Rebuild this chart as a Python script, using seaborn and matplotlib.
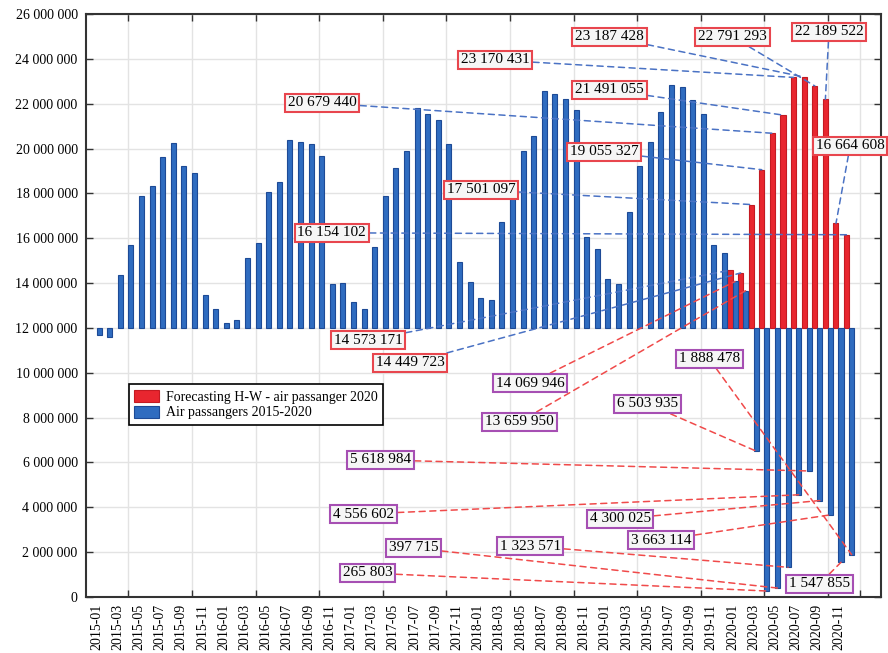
import numpy as np
import pandas as pd
import matplotlib.pyplot as plt
import matplotlib.ticker as mticker
import seaborn as sns

# months 2015-01 .. 2020-12
months = [f"{y}-{m:02d}" for y in range(2015, 2021) for m in range(1, 13)]

# monthly air passengers (2015-2019, 2020 from the labels)
passengers = [
    11.69e6, 11.58e6, 14.36e6, 15.70e6, 17.90e6, 18.33e6, 19.61e6, 20.24e6, 19.24e6, 18.93e6, 13.47e6, 12.85e6,
    12.24e6, 12.36e6, 15.11e6, 15.78e6, 18.08e6, 18.51e6, 20.38e6, 20.28e6, 20.21e6, 19.68e6, 13.96e6, 14.02e6,
    13.17e6, 12.86e6, 15.60e6, 17.90e6, 19.12e6, 19.89e6, 21.80e6, 21.54e6, 21.25e6, 20.21e6, 14.96e6, 14.06e6,
    13.35e6, 13.25e6, 16.74e6, 18.10e6, 19.89e6, 20.58e6, 22.58e6, 22.43e6, 22.21e6, 21.72e6, 16.07e6, 15.51e6,
    14.18e6, 13.96e6, 17.19e6, 19.20e6, 20.27e6, 21.62e6, 22.84e6, 22.73e6, 22.17e6, 21.54e6, 15.70e6, 15.33e6,
    14069946, 13659950, 6503935, 265803, 397715, 1323571, 4556602, 5618984, 4300025, 3663114, 1547855, 1888478,
]

# Holt-Winters forecast for 2020
forecast_2020 = [14573171, 14449723, 17501097, 19055327, 20679440, 21491055,
                 23170431, 23187428, 22791293, 22189522, 16664608, 16154102]

base = 12_000_000
lab_fc = "Forecasting H-W - air passanger 2020"
lab_air = "Air passangers 2015-2020"

# label box centres (month index, value) for the 2020 annotations
fc_text_pos = [(25.6, 11.46e6), (29.6, 10.44e6), (36.3, 18.15e6), (47.9, 19.85e6),
               (21.3, 22.03e6), (48.4, 22.61e6), (37.6, 23.95e6), (48.4, 24.98e6),
               (60.0, 24.98e6), (69.1, 25.20e6), (71.1, 20.12e6), (22.2, 16.24e6)]
air_text_pos = [(40.9, 9.54e6), (39.9, 7.81e6), (52.0, 8.61e6), (25.6, 1.07e6),
                (29.9, 2.19e6), (40.9, 2.27e6), (25.2, 3.70e6), (26.8, 6.11e6),
                (49.4, 3.48e6), (53.3, 2.54e6), (68.2, 0.58e6), (57.8, 10.62e6)]

i2020 = months.index("2020-01")
df = pd.concat([
    pd.DataFrame({"month": months[i2020:], "value": forecast_2020, "series": lab_fc}),
    pd.DataFrame({"month": months, "value": passengers, "series": lab_air}),
])
df["height"] = df["value"] - base

plt.rcParams['font.family'] = ['Liberation Serif', 'DejaVu Serif']

fig = plt.figure(figsize=(8.88, 6.53), dpi=100)
ax = fig.add_axes([0.0968, 0.0858, 0.8952, 0.8928])

bw = 0.95
sns.barplot(data=df, x="month", y="height", hue="series", order=months,
            hue_order=[lab_fc, lab_air], palette=["#e8262f", "#2f6cc0"],
            saturation=1, width=bw, dodge=True, errorbar=None, bottom=base,
            legend=False, linewidth=0.8, ax=ax)

for cont, ec in zip(ax.containers, ["#c41a22", "#1d4a96"]):
    for p in cont:
        p.set_edgecolor(ec)

ax.set_xlim(-1, 74)
ax.set_ylim(0, 26e6)
ax.set_xlabel("")
ax.set_ylabel("")

ax.set_xticks(range(0, len(months), 2))
ax.set_xticklabels(months[::2], rotation=90, fontsize=10)
ax.set_xticks(range(0, 73, 3), minor=True)
ax.tick_params(axis="x", which="major", length=0, pad=5)
ax.tick_params(axis="x", which="minor", direction="in", length=5, width=1,
               top=True, bottom=True, color="#333333")
ax.yaxis.set_major_locator(mticker.MultipleLocator(2e6))
ax.yaxis.set_major_formatter(mticker.FuncFormatter(lambda v, p: f"{v:,.0f}".replace(",", " ")))
ax.tick_params(axis="y", direction="in", length=5, width=1, left=True, right=True,
               labelsize=10, color="#333333", pad=6)

ax.grid(False)
ax.grid(True, axis="x", which="minor", color="#e3e3e3", lw=1)
ax.grid(True, axis="y", which="major", color="#e3e3e3", lw=1)
ax.set_axisbelow(True)
for s in ax.spines.values():
    s.set_color("#333333")
    s.set_linewidth(1.5)

off = bw / 4
fmt = lambda v: f"{v:,}".replace(",", " ")
for k, (v, pos) in enumerate(zip(forecast_2020, fc_text_pos)):
    ax.annotate(fmt(v), xy=(i2020 + k - off, v), xytext=pos, fontsize=11,
                ha="center", va="center", zorder=6,
                bbox=dict(boxstyle="square,pad=0.18", fc="#f6f6f6", ec="#e8464e", lw=1.5),
                arrowprops=dict(arrowstyle="-", color="#4a72c4", lw=1.1,
                                linestyle=(0, (4, 3)), shrinkA=0, shrinkB=0))
for k, pos in enumerate(air_text_pos):
    v = passengers[i2020 + k]
    ax.annotate(fmt(v), xy=(i2020 + k + off, v), xytext=pos, fontsize=11,
                ha="center", va="center", zorder=6,
                bbox=dict(boxstyle="square,pad=0.18", fc="#f6f6f6", ec="#a64fb3", lw=1.5),
                arrowprops=dict(arrowstyle="-", color="#f04a4a", lw=1.1,
                                linestyle=(0, (4, 3)), shrinkA=0, shrinkB=0))

leg = ax.legend(ax.containers[:2], [lab_fc, lab_air], loc="lower left",
                bbox_to_anchor=(0.045, 0.283), fontsize=10,
                frameon=True, fancybox=False, framealpha=1, edgecolor="black",
                handlelength=1.8, handleheight=0.95, handletextpad=0.5,
                borderpad=0.4, labelspacing=0.15)
leg.get_frame().set_linewidth(1.2)

fig.savefig("out.png", dpi=100)
